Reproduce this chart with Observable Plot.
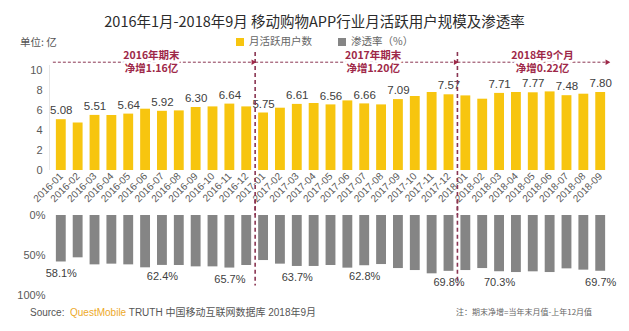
<!DOCTYPE html>
<html><head><meta charset="utf-8">
<script src="https://cdn.jsdelivr.net/npm/d3@7"></script>
<script src="https://cdn.jsdelivr.net/npm/@observablehq/plot@0.6"></script>
<style>
body{margin:0;background:#fff;}
#root{position:relative;width:629px;height:331px;overflow:hidden;font-family:"Liberation Sans",Arial,"Noto Sans CJK SC",sans-serif;color:#404040;}
.abs{position:absolute;white-space:nowrap;}
.sw{display:inline-block;width:8px;height:8px;margin-right:5px;vertical-align:-1px;}
</style></head><body><div id="root"></div>
<script>
const months = ["2016-01","2016-02","2016-03","2016-04","2016-05","2016-06","2016-07","2016-08","2016-09","2016-10","2016-11","2016-12",
"2017-01","2017-02","2017-03","2017-04","2017-05","2017-06","2017-07","2017-08","2017-09","2017-10","2017-11","2017-12",
"2018-01","2018-02","2018-03","2018-04","2018-05","2018-06","2018-07","2018-08","2018-09"];
const users = [5.08,4.75,5.51,5.50,5.64,6.13,5.92,5.96,6.30,6.36,6.64,6.36,
5.75,6.23,6.61,6.70,6.56,6.96,6.66,6.56,7.09,7.40,7.80,7.57,
7.46,7.13,7.71,7.80,7.77,7.86,7.48,7.63,7.80];
const rates = [58.1,52.9,61.7,60.8,61.7,65.4,62.4,62.5,64.2,64.2,65.7,62.5,
56.3,60.8,63.7,63.7,62.5,65.8,62.8,61.3,66.3,68.8,72.9,69.8,
68.8,66.3,70.3,71.3,70.4,71.3,66.7,68.3,69.7];
const userLabelMonths = ["2016-01","2016-03","2016-05","2016-07","2016-09","2016-11","2017-01","2017-03","2017-05","2017-07","2017-09","2017-12","2018-03","2018-05","2018-07","2018-09"];
const rateLabelMonths = ["2016-01","2016-07","2016-11","2017-03","2017-07","2017-12","2018-03","2018-09"];
const periodStart = [0, 12, 24];
const periodEnd = [12, 24, 33];
const periodLabelAt = [5.85, 19, 29.05];
const periodTitles = ["2016年期末", "2017年期末", "2018年9个月"];
const periodNet = ["净增1.16亿", "净增1.20亿", "净增0.22亿"];
const yearBreaks = [12, 24];

const YELLOW = "#F7C50F", GRAY = "#858585", RED = "#9E2848", LINE = "#8A3552";
const FONT = '"Liberation Sans",Arial,"Noto Sans CJK SC",sans-serif';
const CJK = '"Noto Sans CJK SC",sans-serif';
const rows = months.map((m, i) => ({i, month: m, users: users[i], rate: rates[i]}));
const periods = periodStart.map((s, k) => ({start: s, end: periodEnd[k], at: periodLabelAt[k], title: periodTitles[k], net: periodNet[k]}));
const xDomain = [-0.2, 33.2];
const root = document.getElementById("root");

function add(html, css) {
  const d = document.createElement("div");
  d.className = "abs"; d.innerHTML = html; Object.assign(d.style, css); root.appendChild(d); return d;
}
add("2016年1月-2018年9月 移动购物APP行业月活跃用户规模及渗透率",
  {left: "0", width: "629px", textAlign: "center", top: "10px", fontSize: "14.5px", color: "#2b2b2b", fontFamily: CJK});
add("单位: 亿", {left: "20px", top: "36px", lineHeight: "12px", fontSize: "10.5px", color: "#555", fontFamily: CJK});
add(`<span class="sw" style="background:${YELLOW}"></span>月活跃用户数`, {left: "236px", top: "35px", lineHeight: "12px", fontSize: "10.5px", color: "#666", fontFamily: CJK});
add(`<span class="sw" style="background:${GRAY}"></span>渗透率（%）`, {left: "338px", top: "35px", lineHeight: "12px", fontSize: "10.5px", color: "#666", fontFamily: CJK});

const topChart = Plot.plot({
  width: 629, height: 167, marginTop: 22, marginBottom: 45, marginLeft: 49, marginRight: 17,
  x: {domain: xDomain, axis: null},
  y: {domain: [0, 10], axis: null},
  style: {fontFamily: FONT, background: "transparent", overflow: "visible", color: "#595959"},
  marks: [
    Plot.ruleX([xDomain[0]], {y1: 0, y2: 10.5, stroke: "#e6e6e6"}),
    Plot.axisY([0, 2, 4, 6, 8, 10], {tickSize: 0, tickPadding: 7, fontSize: 11, anchor: "left", label: null}),
    Plot.axisX(rows.map(d => d.i + 0.5), {tickFormat: v => months[Math.round(v - 0.5)], tickRotate: -45, tickSize: 0, tickPadding: 4, fontSize: 10, anchor: "bottom", label: null}),
    Plot.rectY(rows, {x1: d => d.i, x2: d => d.i + 1, y1: 0, y2: "users", fill: YELLOW, insetLeft: 3.5, insetRight: 3.5}),
    Plot.text(rows.filter(d => userLabelMonths.includes(d.month)), {x: d => d.i + 0.5, y: "users", text: d => d.users.toFixed(2), dy: -9, fontSize: 11.5, fill: "#404040"}),
    Plot.ruleX(yearBreaks, {y1: 11.8, y2: -4.5, stroke: LINE, strokeWidth: 1.6, strokeDasharray: "4,3"}),
    Plot.link(periods, {x1: "start", x2: "end", y1: 10.83, y2: 10.83, stroke: LINE, strokeWidth: 1, strokeDasharray: "3,2"}),
    Plot.dot(periods, {x: "end", y: 10.83, symbol: "triangle2", rotate: 90, r: 2.6, fill: RED, stroke: "none", dx: -2}),
    Plot.text(periods, {x: "at", y: 10.83, text: "title", dy: -6.8, fill: RED, fontWeight: "bold", fontSize: 10.5, stroke: "white", strokeWidth: 5, fontFamily: CJK}),
    Plot.text(periods, {x: "at", y: 10.83, text: "net", dy: 6.8, fill: RED, fontWeight: "bold", fontSize: 10.5, stroke: "white", strokeWidth: 5, fontFamily: CJK})
  ]
});
Object.assign(topChart.style, {position: "absolute", left: "0", top: "48px"});
root.appendChild(topChart);

const bottomChart = Plot.plot({
  width: 629, height: 100, marginTop: 15, marginBottom: 5, marginLeft: 49, marginRight: 17,
  x: {domain: xDomain, axis: null},
  y: {domain: [0, 100], reverse: true, axis: null},
  style: {fontFamily: FONT, background: "transparent", overflow: "visible", color: "#595959"},
  marks: [
    Plot.axisY([0, 50, 100], {tickFormat: d => d + "%", tickSize: 0, tickPadding: 4, fontSize: 11, anchor: "left", label: null}),
    Plot.rectY(rows, {x1: d => d.i, x2: d => d.i + 1, y1: 0, y2: "rate", fill: GRAY, insetLeft: 3.5, insetRight: 3.5}),
    Plot.text(rows.filter(d => rateLabelMonths.includes(d.month)), {x: d => d.i + 0.5, y: "rate", text: d => d.rate.toFixed(1) + "%", dy: 11, fontSize: 11, fill: "#404040"}),
    Plot.ruleX(yearBreaks, {y1: -19, y2: 88, stroke: LINE, strokeWidth: 1.6, strokeDasharray: "4,3"})
  ]
});
Object.assign(bottomChart.style, {position: "absolute", left: "0", top: "200px"});
root.appendChild(bottomChart);

add(`Source:&nbsp; <span style="color:#EDA92A">QuestMobile</span> TRUTH 中国移动互联网数据库 2018年9月`,
  {left: "30px", top: "304px", fontSize: "10px", color: "#555", fontFamily: FONT});
add("注：期末净增=当年末月值-上年12月值", {left: "456px", top: "306px", fontSize: "8px", color: "#666", fontFamily: CJK});
</script></body></html>
